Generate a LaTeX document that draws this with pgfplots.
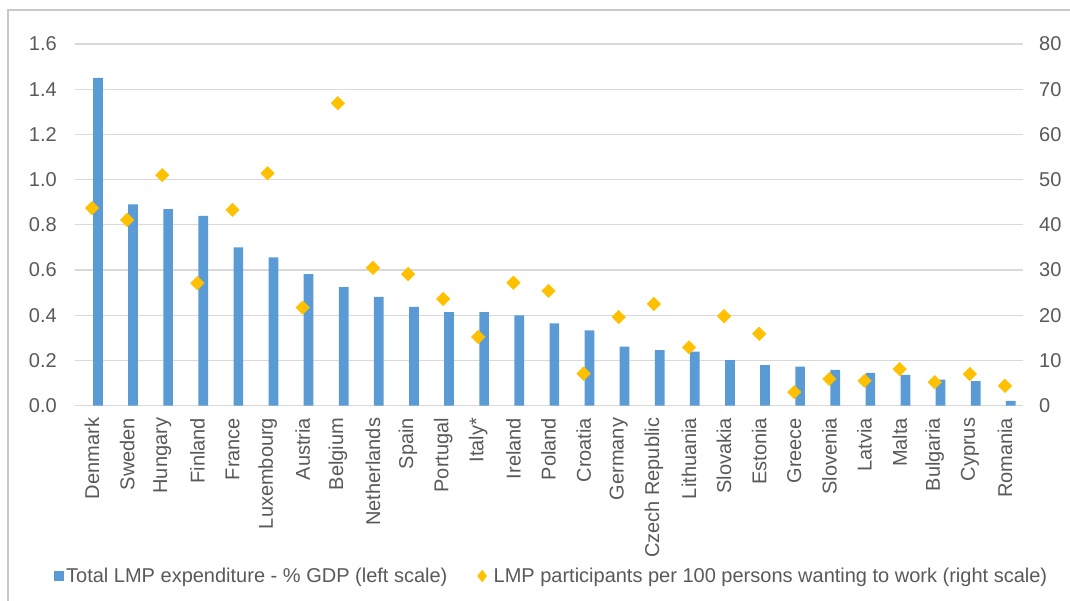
\documentclass[border=0pt]{standalone}
\usepackage{fontspec}
\setmainfont{Liberation Sans}
\usepackage{pgfplots}
\usepackage{pgfplotstable}
\pgfplotsset{compat=1.18}

\definecolor{barblue}{HTML}{5B9BD5}
\definecolor{diamy}{HTML}{FFC000}
\definecolor{gridgray}{HTML}{D9D9D9}
\definecolor{txtgray}{HTML}{595959}
\definecolor{framegray}{HTML}{C8C8C8}

% idx, LMP expenditure (% GDP), participants per 100 persons wanting to work
\pgfplotstableread{
idx exp part
0 1.450 43.7
1 0.890 41.1
2 0.870 51.0
3 0.840 27.1
4 0.700 43.3
5 0.656 51.4
6 0.582 21.7
7 0.525 66.9
8 0.481 30.5
9 0.437 29.1
10 0.414 23.6
11 0.414 15.2
12 0.400 27.2
13 0.364 25.4
14 0.333 7.1
15 0.261 19.6
16 0.246 22.5
17 0.239 12.9
18 0.202 19.8
19 0.180 15.9
20 0.173 3.0
21 0.158 5.9
22 0.145 5.5
23 0.136 8.1
24 0.115 5.2
25 0.109 7.0
26 0.021 4.4
}\lmpdata

\pgfplotsset{
  common/.style={
    at={(74.5pt,195.3pt)}, anchor=south west,
    scale only axis, width=948pt, height=361.7pt,
    xmin=-0.5, xmax=26.5,
    /pgf/number format/assume math mode=true,
    tick style={draw=none}, major tick length=0pt,
    tick label style={font=\fontsize{20}{24}\selectfont, text=txtgray},
  },
}

\begin{document}
\begin{tikzpicture}
\useasboundingbox (0,0) rectangle (1070pt,601pt);
\draw[framegray, line width=2pt] (8pt,0pt) -- (8pt,591pt) -- (1071pt,591pt);

\begin{axis}[
  common,
  ybar, bar width=9.7pt,
  ymin=0, ymax=1.6,
  ytick={0,0.2,0.4,0.6,0.8,1.0,1.2,1.4,1.6},
  yticklabel={\pgfmathprintnumber[fixed,fixed zerofill,precision=1]{\tick}},
  yticklabel style={anchor=east, inner sep=0pt, xshift=-17.5pt},
  xtick=data,
  xticklabels={Denmark, Sweden, Hungary, Finland, France, Luxembourg, Austria, Belgium, Netherlands, Spain, Portugal, Italy*, Ireland, Poland, Croatia, Germany, Czech Republic, Lithuania, Slovakia, Estonia, Greece, Slovenia, Latvia, Malta, Bulgaria, Cyprus, Romania},
  xticklabel style={yshift=-12pt, rotate=90, anchor=east, inner sep=0pt},
  axis x line*=bottom, axis y line*=left,
  x axis line style={-, draw=gridgray, line width=1.2pt},
  y axis line style={draw=none},
  ymajorgrids, grid style={draw=gridgray, line width=1.2pt},
  legend columns=2,
  legend style={at={(0.5,0)}, anchor=center, xshift=2pt, yshift=-170.3pt,
    draw=none, fill=none, inner sep=0pt,
    font=\fontsize{20}{24}\selectfont, text=txtgray,
    nodes={inner sep=0pt},
    /tikz/every odd column/.append style={column sep=3pt},
    /tikz/every even column/.append style={column sep=30pt}},
]
\addplot[fill=barblue, draw=none, forget plot] table[x=idx, y=exp] {\lmpdata};
\addlegendimage{legend image code/.code={\fill[barblue] (0pt,-4.5pt) rectangle (9pt,4.5pt);}}
\addlegendentry{Total LMP expenditure - \% GDP (left scale)}
\addlegendimage{legend image code/.code={\path[draw=none, fill=none] (0pt,0pt) rectangle (13pt,0.1pt);\fill[diamy] (0pt,0pt) -- (4.5pt,6pt) -- (9pt,0pt) -- (4.5pt,-6pt) -- cycle;}}
\addlegendentry{LMP participants per 100 persons wanting to work (right scale)}
\end{axis}

\begin{axis}[
  common,
  ymin=0, ymax=80,
  ytick={0,10,20,30,40,50,60,70,80},
  yticklabel style={anchor=west, inner sep=0pt, xshift=16.5pt},
  axis x line=none, axis y line*=right,
  y axis line style={draw=none},
]
\addplot[only marks, mark=square*, mark size=4.8pt,
  mark options={rotate=45, fill=diamy, draw=diamy}] table[x=idx, y=part] {\lmpdata};
\end{axis}
\end{tikzpicture}
\end{document}
